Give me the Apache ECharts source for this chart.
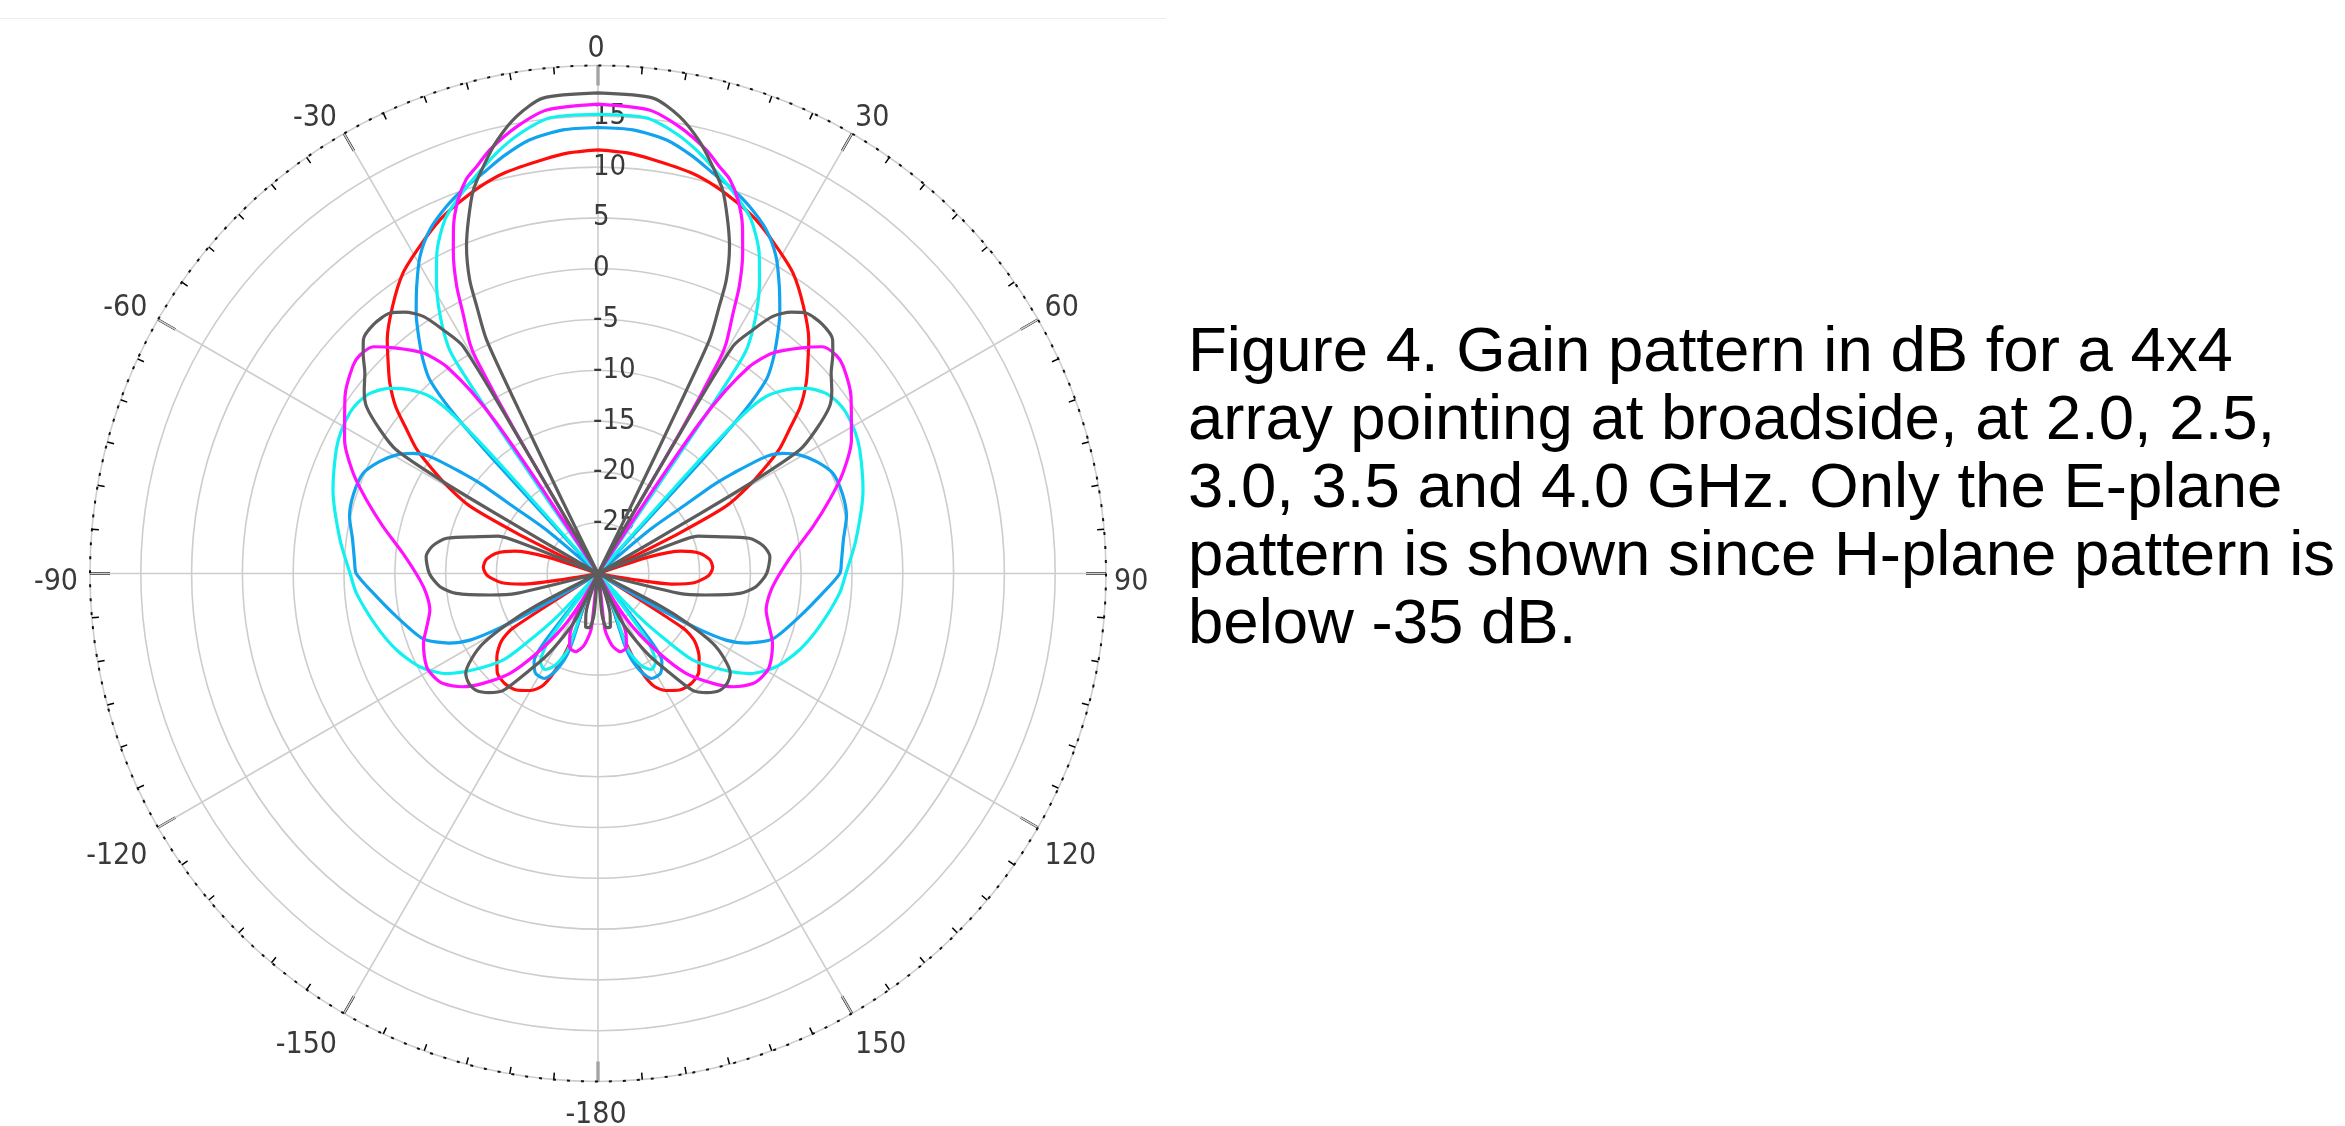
<!DOCTYPE html>
<html>
<head>
<meta charset="utf-8">
<script src="https://cdn.jsdelivr.net/npm/echarts@6/dist/echarts.min.js"></script>
<style>
html,body{margin:0;padding:0;background:#fff;}
#chart{width:2345px;height:1126px;}
</style>
</head>
<body>
<div id="chart"></div>
<script>
// Angle ticks (degrees, 0 = broadside, clockwise) and radial ticks (dB)
const angleTicks = [0, 30, 60, 90, 120, 150, 180, 210, 240, 270, 300, 330];
const radialTicks = [-30, -25, -20, -15, -10, -5, 0, 5, 10, 15, 20];

const seriesNames = ['2.0 GHz', '2.5 GHz', '3.0 GHz', '3.5 GHz', '4.0 GHz'];

// E-plane gain [angle deg (0..180), gain dB]; pattern is symmetric about 0 deg.
// Values at -30 dB sit at the plot centre (floor of the radial scale).
const gain20 = [
  [0,11.7],[4,11.5],[7.5,11.1],[13,10.5],[17,9.8],[20.5,9.0],[24,8.15],[28.5,6.7],[33,5.25],[37.5,3.2],
  [42,1.0],[45,-0.8],[47.5,-2.2],[50.5,-4.2],[53,-6.4],[55.5,-8.3],[57.5,-10.4],[60,-13],[62.3,-15.8],
  [63.6,-21],[64.4,-26.2],[65,-30],
  [71,-30],[72,-24.7],[75,-21.5],[78.7,-19.8],[83,-18.9],[87,-18.7],[91,-19.1],[95.5,-20.5],[98,-22.5],
  [99.5,-26],[100.5,-30],
  [122,-30],[122.7,-20],[125,-18.4],[129.5,-17.1],[134.5,-16.1],[140,-15.8],[145,-16.0],[150,-16.7],
  [154,-17.8],[157,-20.5],[158.5,-24],[159.5,-30],
  [180,-30]
];
const gain25 = [
  [0,13.9],[4.5,13.8],[9,13.2],[12.8,12.1],[16,11.0],[19.4,10.05],[22.4,9.1],[26,7.7],[29.3,5.8],
  [32.3,3.4],[35,1.2],[37.5,-1.1],[39.5,-3.0],[41,-4.8],[42,-8.5],[42.6,-16],[43.2,-30],
  [49.4,-30],[49.8,-23.4],[51.7,-19.4],[52.6,-15.4],[53.4,-13.5],[55.2,-9.8],[57,-8.3],[59.5,-7.0],
  [63,-5.8],[67,-4.85],[72,-4.7],[77,-4.9],[82,-5.6],[87,-6.0],[90,-6.2],[95,-7.8],[102,-9.7],
  [110.4,-11.6],[115,-13.8],[117.5,-15.8],[119,-19],[120,-24],[120.6,-30],
  [140.5,-30],[142,-21.5],[144,-19.3],[148,-18.4],[153,-18.4],[157,-19.8],[159.5,-22],[161,-30],
  [180,-30]
];
const gain30 = [
  [0,15.2],[6,15.1],[10,14.0],[13.5,12.6],[17.6,10.7],[20.7,9.3],[23.4,7.95],[26.7,5.3],[28.8,3.0],
  [31.3,0.0],[33.4,-3.2],[33.9,-5.5],[34.3,-14],[34.7,-30],
  [41.5,-30],[41.8,-16],[42.4,-9],[43.5,-6.0],[45.7,-4.1],[48.5,-2.5],[51.7,-1.4],[54.5,-1.0],[57,-0.9],
  [61,-1.1],[64.7,-1.5],[72.5,-2.65],[82.6,-4.4],[90,-5.6],[94.7,-6.15],[103.5,-7.6],[110.8,-8.8],
  [117.6,-10.2],[123.4,-12.1],[127.7,-14.5],[132.4,-17.4],[134.3,-20.4],[136.5,-24],[137.5,-30],
  [142,-30],[143.5,-22],[147,-19.6],[151,-19.2],[155,-20.0],[158.5,-22],[160.5,-30],
  [180,-30]
];
const gain35 = [
  [0,16.2],[6.3,15.9],[10.3,14.7],[14.3,13.05],[16.6,11.8],[18.5,10.9],[20.5,9.3],[22.6,7.0],[24.3,4.6],
  [26.2,1.5],[27.4,-1.1],[29.1,-4.05],[29.6,-5.8],[30.2,-14],[30.7,-30],
  [33,-30],[33.4,-20],[34,-12.1],[34.9,-8.0],[36.2,-4.75],[37.1,-3.6],[38.4,-2.3],[41.8,-0.25],
  [44.7,1.4],[47.5,1.8],[49.8,1.6],[55,0.4],[62.2,-1.8],[67.7,-3.95],[72.4,-6.1],[77.7,-8.35],
  [84.1,-10.7],[92,-12.45],[97,-13.0],[102.3,-13.06],[107,-12.4],[111.8,-11.5],[118.5,-10.8],
  [122,-10.9],[125.4,-11.3],[130,-12.66],[133.7,-14.35],[138.6,-16.9],[142.5,-20.1],[146.9,-23.7],
  [149.5,-27],[150.5,-30],
  [153,-30],[155,-23.5],[159,-22.2],[164,-22],[169,-22.8],[173,-24.5],[175.5,-30],
  [180,-30]
];
const gain40 = [
  [0,17.3],[6.6,17.1],[10.1,15.7],[13.2,13.7],[15.7,11.65],[18,9.7],[20.1,7.1],[21.9,4.7],[23.6,1.55],
  [24.4,-1.1],[25.5,-4.5],[25.8,-12],[26.1,-22],[26.4,-30],
  [30,-30],[30.3,-16],[30.7,-4.0],[32.5,-1.5],[34.2,0.6],[36.5,2.0],[38.6,2.8],[42,3.0],[45.1,2.6],
  [47,1.6],[49.3,0.27],[52,-0.8],[54.2,-1.9],[56.6,-4.3],[58.5,-6.7],[59.3,-11.9],[59.6,-18.4],[60,-30],
  [68,-30],[68.4,-22],[69.5,-19.5],[72.7,-17.8],[76.9,-14.7],[80.5,-13.5],[84.4,-13.0],[90,-13.4],
  [94.8,-14.4],[98,-15.9],[101.3,-19.2],[103.7,-21.75],[105,-30],
  [116.5,-30],[117.5,-23],[119,-20],[121.3,-16.8],[124,-15.0],[127,-13.7],[130.5,-13.3],[134,-13.4],
  [137.5,-14.1],[141,-15.2],[144.8,-18.4],[148,-20.5],[151.2,-22.9],[154,-25],[155.5,-30],
  [161,-30],[163,-26],[167,-24.6],[171,-24.6],[174.5,-26],[176.5,-30],
  [180,-30]
];

const allGains = [gain20, gain25, gain30, gain35, gain40];
const colors = ['#ff0d0d', '#12a3ee', '#12f0f0', '#ff10ff', '#5c5c5c'];

const caption = 'Figure 4. Gain pattern in dB for a 4x4\narray pointing at broadside, at 2.0, 2.5,\n3.0, 3.5 and 4.0 GHz. Only the E-plane\npattern is shown since H-plane pattern is\nbelow -35 dB.';

// Build full closed curve: 0 -> 180 on the right, then mirrored 180 -> 360 (i.e. -180 -> 0) on the left
function fullCurve(half) {
  const right = half.map(p => [p[1], p[0]]);
  const left = half.slice().reverse().filter(p => p[0] < 180).map(p => [p[1], 360 - p[0]]);
  return right.concat(left);
}

const chart = echarts.init(document.getElementById('chart'), null, {renderer: 'canvas'});
const labelFont = '"Liberation Sans Narrow", "DejaVu Sans Condensed", "Liberation Sans", Arial, sans-serif';

function angleLabel(v) {
  if (v === 360) return '';
  if (v === 180) return '-180';
  return v > 180 ? String(v - 360) : String(v);
}

const option = {
  backgroundColor: '#ffffff',
  animation: false,
  polar: [
    { center: [598, 573.5], radius: 508 },
    // label ring: same angular scale, offset slightly as in the original figure
    { center: [596, 582], radius: 508 }
  ],
  angleAxis: [{
    polarIndex: 0,
    type: 'value',
    min: 0, max: 360, interval: 30,
    startAngle: 90, clockwise: true,
    axisLine: { show: true, lineStyle: { color: '#111', width: 2, type: [3, 11] } },
    axisTick: { show: true, inside: true, length: 20, lineStyle: { color: '#000', width: 2.5 } },
    minorTick: { show: true, splitNumber: 6, length: 7, lineStyle: { color: '#000', width: 1.5 } },
    splitLine: { show: true, lineStyle: { color: '#cdcdcd', width: 1.6 } },
    axisLabel: { show: false }
  }, {
    polarIndex: 1,
    type: 'value',
    min: 0, max: 360, interval: 30,
    startAngle: 90, clockwise: true,
    axisLine: { show: false }, axisTick: { show: false }, splitLine: { show: false },
    axisLabel: {
      show: true, margin: 10, fontSize: 30, color: '#3a3a3a', fontFamily: labelFont,
      formatter: angleLabel
    }
  }],
  radiusAxis: [{
    polarIndex: 0,
    type: 'value', min: radialTicks[0], max: radialTicks[radialTicks.length - 1], interval: 5,
    axisLine: { show: false },
    axisTick: { show: false },
    splitLine: { show: true, lineStyle: { color: '#cdcdcd', width: 1.6 } },
    axisLabel: {
      show: true, fontSize: 29, color: '#3a3a3a', fontFamily: labelFont,
      margin: 5, align: 'left', verticalAlign: 'middle', padding: [0, 0, 13, 0],
      formatter: function (v) { return (v === 20 || v === -30) ? '' : String(v); }
    }
  }, {
    polarIndex: 1,
    type: 'value', min: radialTicks[0], max: radialTicks[radialTicks.length - 1],
    show: false
  }],
  graphic: [
    { type: 'line', shape: { x1: 0, y1: 18.5, x2: 1166, y2: 18.5 }, style: { stroke: '#ececec', lineWidth: 1 } },
    {
      type: 'text', left: 1188, top: 319,
      style: { text: caption, font: '63.5px "Liberation Sans", Arial, sans-serif', lineHeight: 68, fill: '#000' }
    }
  ],
  series: allGains.map((g, i) => ({
    name: seriesNames[i],
    type: 'line',
    coordinateSystem: 'polar',
    polarIndex: 0,
    data: fullCurve(g),
    showSymbol: false,
    symbol: 'none',
    smooth: 0.25,
    clip: false,
    lineStyle: { color: colors[i], width: 3.2 },
    z: 3 + i
  }))
};
chart.setOption(option);
</script>
</body>
</html>
